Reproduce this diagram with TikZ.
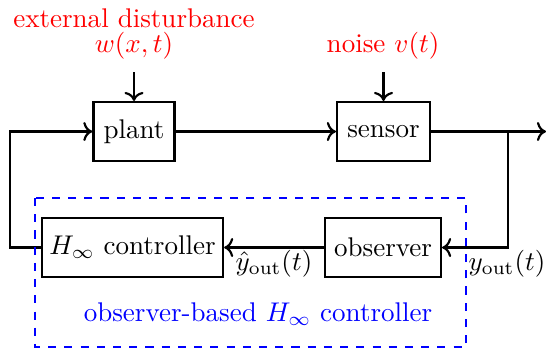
\documentclass[tikz,border=0pt]{standalone}
\usetikzlibrary{arrows.meta}
\begin{document}
\begin{tikzpicture}[x=0.37pt,y=-0.37pt,
  blk/.style={draw,thick,minimum width=#1,minimum height=21.8pt,inner sep=0pt},
  conn/.style={thick,->},
  lbl/.style={inner sep=0pt}]
\useasboundingbox (0,0) rectangle (546,348);
\node[blk=30pt] (plant) at (134,131.5) {plant};
\node[blk=34.4pt] (sensor) at (383.5,131.5) {sensor};
\node[blk=42.9pt] (obs) at (383,247.5) {observer};
\node[blk=67pt] (ctrl) at (132.5,247.5) {$H_\infty$ controller};
\node[red,lbl] (dist) at (134,18) {external disturbance};
\node[red,lbl] (w) at (134,46) {$w(x,t)$};
\node[red,lbl] (v) at (383,46) {noise $v(t)$};
\coordinate (wtop) at (134,72);
\coordinate (vtop) at (383.5,72);
\coordinate (br) at (508,131.5);
\coordinate (out) at (546,131.5);
\coordinate (fb) at (10,247.5);
\draw[conn] (wtop) -- (plant.north);
\draw[conn] (vtop) -- (sensor.north);
\draw[conn] (plant) -- (sensor);
\draw[conn] (sensor.east) -- (out);
\draw[conn] (br) |- (obs.east);
\draw[conn] (obs) -- (ctrl);
\draw[conn] (ctrl.west) -- (fb) |- (plant.west);
\node[lbl] (yh) at (274,264) {$\hat{y}_{\mathrm{out}}(t)$};
\node[lbl] (y) at (507,264) {$y_{\mathrm{out}}(t)$};
\draw[blue,dashed] (35,198) rectangle (466,347);
\node[blue,lbl] (obc) at (258,314) {observer-based $H_\infty$ controller};
\end{tikzpicture}
\end{document}
